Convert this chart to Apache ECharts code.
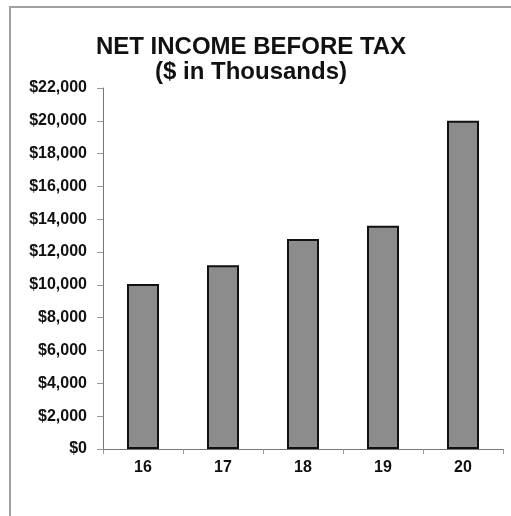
<!DOCTYPE html>
<html>
<head>
<meta charset="utf-8">
<script src="https://cdn.jsdelivr.net/npm/echarts@6/dist/echarts.min.js"></script>
<style>
  html, body { margin: 0; padding: 0; background: #fff; }
  #chart { width: 511px; height: 516px; }
</style>
</head>
<body>
<div id="chart"></div>
<script>
// fiscal years and net income before tax ($ thousands)
var years = ['16', '17', '18', '19', '20'];
var income = [10050, 11200, 12800, 13600, 20000];
var titleLines = ['NET INCOME BEFORE TAX', '($ in Thousands)'];

var myChart = echarts.init(document.getElementById('chart'));

function money(v) {
  return '$' + v.toString().replace(/\B(?=(\d{3})+(?!\d))/g, ',');
}

var option = {
  backgroundColor: '#fff',
  animation: false,
  title: {
    text: titleLines.join('\n'),
    left: 246,
    top: 30,
    textAlign: 'center',
    textStyle: {
      fontFamily: 'Liberation Sans, Arial, sans-serif',
      fontSize: 24,
      fontWeight: 'bold',
      color: '#111',
      lineHeight: 25
    }
  },
  graphic: [{
    type: 'polyline',
    shape: { points: [[10, 516], [10, 7], [511, 7]] },
    style: { stroke: '#a0a0a0', lineWidth: 2, fill: null }
  }],
  grid: { left: 103, right: 8, top: 88, bottom: 67 },
  xAxis: {
    type: 'category',
    data: years,
    axisLine: { lineStyle: { color: '#777', width: 1 } },
    axisTick: { show: true, length: 5, lineStyle: { color: '#999' } },
    axisLabel: {
      margin: 11,
      fontFamily: 'Liberation Sans, Arial, sans-serif',
      fontSize: 16,
      fontWeight: 'bold',
      color: '#111'
    }
  },
  yAxis: {
    type: 'value',
    min: 0,
    max: 22000,
    interval: 2000,
    splitLine: { show: false },
    axisLine: { show: true, lineStyle: { color: '#777', width: 1 } },
    axisTick: { show: true, length: 6, lineStyle: { color: '#999' } },
    axisLabel: {
      margin: 16,
      formatter: money,
      fontFamily: 'Liberation Sans, Arial, sans-serif',
      fontSize: 16,
      fontWeight: 'bold',
      color: '#111'
    }
  },
  series: [{
    type: 'bar',
    data: income,
    barWidth: 32,
    itemStyle: {
      color: '#8c8c8c',
      borderColor: '#111',
      borderWidth: 2
    }
  }]
};

myChart.setOption(option);
</script>
</body>
</html>
